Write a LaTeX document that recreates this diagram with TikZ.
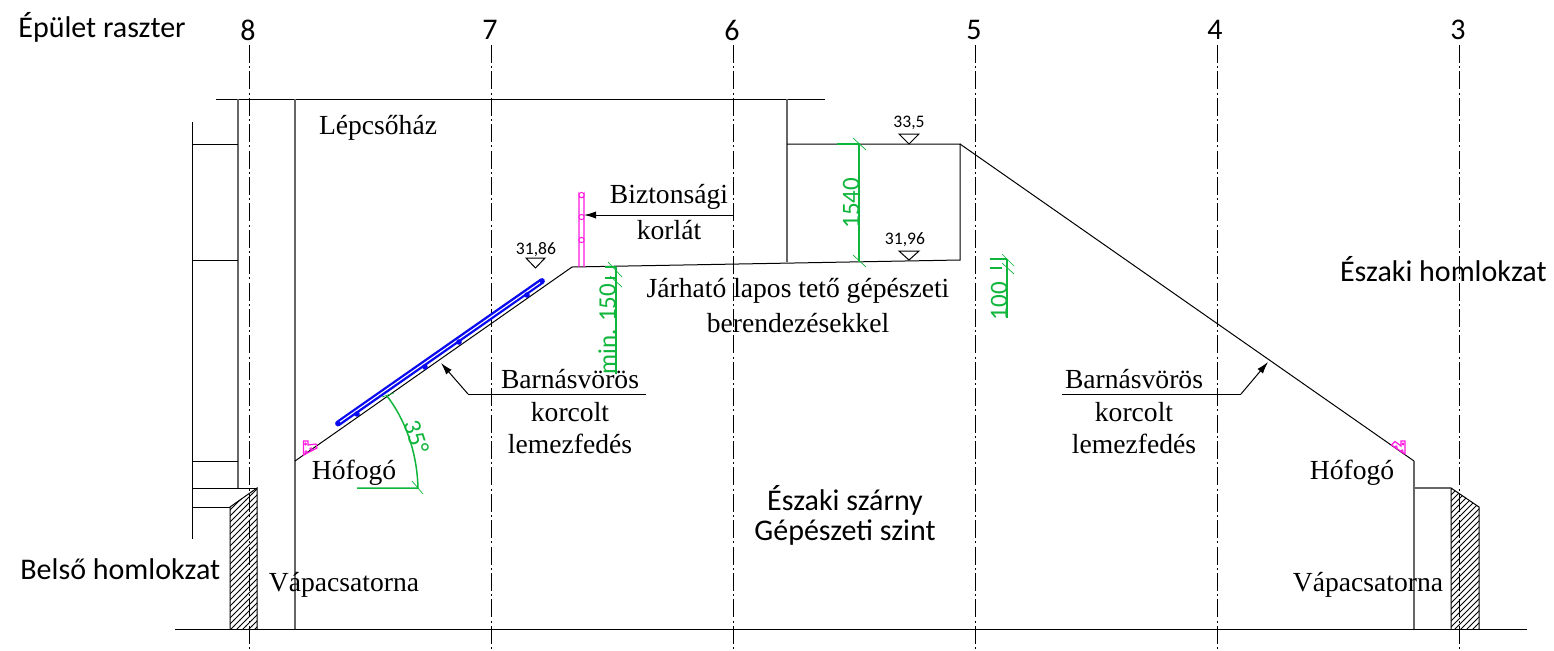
\documentclass[tikz,border=0pt]{standalone}
\usepackage{fontspec}
\setmainfont{Liberation Serif}
\newfontfamily\calfont{Carlito}
\usetikzlibrary{patterns,arrows.meta}
\definecolor{dimgreen}{HTML}{10B63C}
\definecolor{rail}{HTML}{FF19E0}
\definecolor{solar}{HTML}{0A0AF0}
\tikzset{
  x=0.5pt,y=-0.5pt,
  ln/.style={draw=black,line width=0.5pt},
  gr/.style={draw=black!60,line width=0.65pt},
  axisl/.style={draw=black,line width=0.4pt,dash pattern=on 9pt off 1.6pt on 1pt off 1.6pt},
  serif/.style={inner sep=0pt,yshift=-0.6pt,font=\fontsize{13.8}{15}\selectfont},
  calb/.style={inner sep=0pt,font=\calfont\fontsize{15}{17}\selectfont},
  lvl/.style={inner sep=0pt,font=\calfont\fontsize{8.8}{10}\selectfont},
  dimt/.style={inner sep=0pt,text=dimgreen,font=\calfont\fontsize{12.5}{14}\selectfont},
  dim/.style={draw=dimgreen,line width=0.75pt},
  tick/.style={draw=dimgreen,line width=0.35pt},
  mag/.style={draw=rail,line width=0.7pt},
  tipa/.style={-{Latex[length=6pt,width=3.6pt]},draw=black,line width=0.5pt},
}
\begin{document}
\begin{tikzpicture}
\useasboundingbox (0,0) rectangle (1554,650);
\fill[white] (0,0) rectangle (1554,650);
% grid axes
\foreach \n/\x in {a/249,b/491,c/733,d/975,e/1217,f/1459}{
  \coordinate (\n t) at (\x,45); \coordinate (\n b) at (\x,650);
}
% hatching
\fill[pattern=north east lines,pattern color=black] (230,507)--(257,488)--(257,629)--(230,629)--cycle;
\fill[pattern=north east lines,pattern color=black] (1451,488)--(1479,507)--(1479,629)--(1451,629)--cycle;
\draw[ln] (230,629)--(230,507)--(257,488)--(257,629);
\draw[ln] (1451,629)--(1451,488)--(1479,507)--(1479,629);
\foreach \n in {a,b,c,d,e,f} \draw[axisl] (\n t)--(\n b);
% building
\draw[ln] (216,99)--(825,99);
\draw[gr] (238,99)--(238,488);
\draw[gr] (295,99)--(295,629);
\draw[gr] (787,99)--(787,262);
\draw[ln] (192,122)--(192,539);
\draw[ln] (192,144)--(238,144) (192,260)--(238,260) (192,461)--(238,461);
\draw[ln] (192,488)--(257,488) (192,507)--(230,507);
\draw[ln] (175,629)--(1527,629);
\coordinate (ridgeL) at (572,267);
\coordinate (ridgeR) at (960,260);
\coordinate (top) at (960,144);
\coordinate (eaveL) at (295,461);
\coordinate (eaveR) at (1414,461);
\draw[ln] (eaveL)--(ridgeL);
\draw[ln] (ridgeL)--(ridgeR)--(top)--(787,144);
\draw[ln] (top)--(eaveR);
\draw[gr] (eaveR)--(1414,629);
\draw[gr] (1414,488)--(1451,488);
% solar rail
\draw[solar,line width=2.9pt,line cap=round] (338,423.5)--(542,281);
\draw[white,line width=0.55pt] (340,422)--(540,282.5);
\fill[solar] (357,414) circle (2.8);
\fill[solar] (425,367) circle (2.8);
\fill[solar] (459,342) circle (2.8);
\fill[solar] (527,295) circle (2.8);
% railing
\draw[mag] (579,267)--(579,195) arc (180:0:2.5) --(584,267);
\foreach \y in {195,217,240}\draw[rail,line width=0.5pt,fill=white] (581.5,\y) circle (2.6);
% snow guards
\draw[rail,line width=0.6pt] (303.5,455)--(303.5,441)--(308,441)--(308,445)--(316,444)--(317,448)--cycle;
\draw[rail,line width=0.4pt] (306,452) circle (1.2) (311,449) circle (1.2) (305.5,444) circle (1);
\draw[rail,line width=0.6pt] (1405,454)--(1405,441)--(1401,441)--(1401,446)--(1395,441.5)--(1391.5,445)--cycle;
\draw[rail,line width=0.4pt] (1402,451) circle (1.2) (1396,447) circle (1.2) (1403,444) circle (1);
% level marks
\draw[ln] (526,258)--(545,258)--(535.5,268)--cycle;
\draw[ln] (899,134)--(919,134)--(909,144)--cycle;
\draw[ln] (899,251)--(919,251)--(909,260)--cycle;
\node[lvl] (l1) at (536,250) {31,86};
\node[lvl] (l2) at (909,123) {33,5};
\node[lvl] (l3) at (905,240) {31,96};
% dimensions
\draw[dim] (837,144)--(859,144)--(859,262);
\draw[tick] (853,138)--(866,150) (853,255)--(866,267);
\node[dimt,rotate=90] (d1) at (851,203) {1540};
\node[dimt,rotate=90] (d3) at (999,301) {100};
\draw[dim] (1007,259)--(1007,318);
\draw[dim] (990,259)--(1007,259) (990,268)--(1002,268);
\draw[tick] (1002,254)--(1014,266) (1002,263)--(1014,274);
\draw[dim] (616,267)--(616,374);
\draw[dim] (605,267)--(616,267) (605,278)--(616,278);
\draw[tick] (608,262)--(622,277) (610,276)--(622,287);
\node[dimt,rotate=90] (d2) at (607,329) {min. 150};
% angle
\coordinate (a1) at (387,396);
\coordinate (a2) at (418,488);
\draw[dim] (a1) .. controls (404,418) and (417,450) .. (a2) -- (357,488);
\draw[tick] (382,397)--(394,393) (412,481)--(423,494);
\node[dimt,rotate=-72] (ang) at (417,437) {35°};
% labels with leaders
\coordinate (lb1) at (646,394); \coordinate (el1) at (468,394); \coordinate (tp1) at (441,363);
\draw[ln] (lb1)--(el1);
\draw[tipa] (el1)--(tp1);
\coordinate (lb2) at (1062,394); \coordinate (el2) at (1241,394); \coordinate (tp2) at (1268,362);
\draw[ln] (lb2)--(el2);
\draw[tipa] (el2)--(tp2);
\coordinate (lb3) at (733,215); \coordinate (tp3) at (584,215);
\draw[tipa] (lb3)--(tp3);
% text
\node[calb,anchor=west] (t0) at (18,27) {Épület raszter};
\node[calb] (n8) at (248,30) {8};
\node[calb] (n7) at (490,30) {7};
\node[calb] (n6) at (732,30) {6};
\node[calb] (n5) at (974,30) {5};
\node[calb] (n4) at (1215,30) {4};
\node[calb] (n3) at (1458,30) {3};
\node[serif] (t1) at (378,127) {Lépcsőház};
\node[serif] (t2) at (669,196) {Biztonsági};
\node[serif] (t3) at (669,229) {korlát};
\node[calb,anchor=east] (t4) at (1547,269) {Északi homlokzat};
\node[serif] (t5) at (798,290) {Járható lapos tető gépészeti};
\node[serif] (t6) at (798,322) {berendezésekkel};
\node[serif] (t7) at (570,378) {Barnásvörös};
\node[serif] (t8) at (570,411) {korcolt};
\node[serif] (t9) at (570,443) {lemezfedés};
\node[serif] (t10) at (1134,378) {Barnásvörös};
\node[serif] (t11) at (1134,411) {korcolt};
\node[serif] (t12) at (1134,443) {lemezfedés};
\node[serif] (t13) at (354,472) {Hófogó};
\node[serif] (t14) at (1352,472) {Hófogó};
\node[calb] (t15) at (845,500) {Északi szárny};
\node[calb] (t16) at (845,533) {Gépészeti szint};
\node[calb,anchor=west] (t17) at (20,569) {Belső homlokzat};
\node[serif] (t18) at (344,584) {Vápacsatorna};
\node[serif] (t19) at (1368,584) {Vápacsatorna};
\end{tikzpicture}
\end{document}
